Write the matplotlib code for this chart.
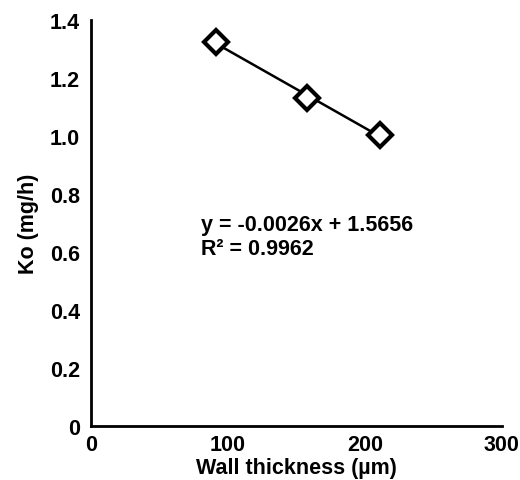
import numpy as np
from matplotlib import pyplot as plt

# Wall thickness (um) vs Ko (mg/h)
thickness = [91, 158, 211]
ko = [1.325, 1.13, 1.005]
x_ticks = [0, 100, 200, 300]
y_ticks = [0, 0.2, 0.4, 0.6, 0.8, 1.0, 1.2, 1.4]
y_tick_labels = ['0', '0.2', '0.4', '0.6', '0.8', '1.0', '1.2', '1.4']
equation = 'y = -0.0026x + 1.5656'
r_squared = 'R² = 0.9962'

plt.rcParams['font.family'] = ['Liberation Sans', 'DejaVu Sans']
plt.rcParams['font.weight'] = 'bold'

fig = plt.figure(figsize=[5.2, 4.81], dpi=100)
ax = fig.add_axes([0.175, 0.112, 0.79, 0.844])

# linear trendline over the data range
slope, intercept = np.polyfit(thickness, ko, 1)
fit_x = np.array([min(thickness), max(thickness)])
ax.plot(fit_x, slope * fit_x + intercept, color='black', linewidth=1.8, zorder=2)

ax.plot(thickness, ko, linestyle='none', marker='D', markersize=12.5,
        markerfacecolor='white', markeredgecolor='black', markeredgewidth=3, zorder=3)

ax.set_xlim(0, 300)
ax.set_ylim(0, 1.4)
ax.set_xticks(x_ticks)
ax.set_yticks(y_ticks)
ax.set_yticklabels(y_tick_labels)
ax.tick_params(length=0, labelsize=15.5, pad=8)
ax.tick_params(axis='x', pad=6)
for lbl in ax.get_xticklabels() + ax.get_yticklabels():
    lbl.set_fontweight('bold')

for side in ['top', 'right']:
    ax.spines[side].set_visible(False)
for side in ['left', 'bottom']:
    ax.spines[side].set_linewidth(2)

ax.set_xlabel('Wall thickness (µm)', fontsize=15.5, fontweight='bold', labelpad=1)
ax.set_ylabel('Ko (mg/h)', fontsize=15.5, fontweight='bold', labelpad=8)

ax.text(80.5, 0.697, equation, fontsize=15.5, fontweight='bold', va='center')
ax.text(80.5, 0.612, r_squared, fontsize=15.5, fontweight='bold', va='center')

plt.savefig('out.png')
plt.close()
